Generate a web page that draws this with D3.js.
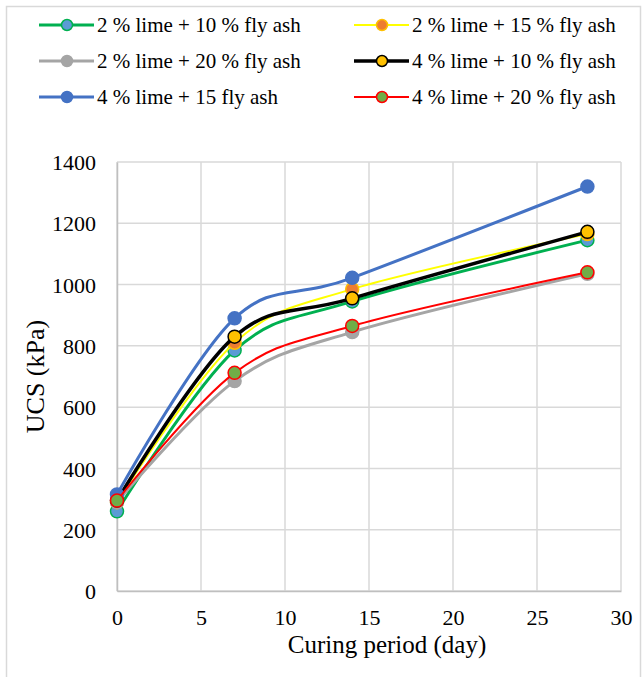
<!DOCTYPE html>
<html>
<head>
<meta charset="utf-8">
<script src="https://cdn.jsdelivr.net/npm/d3@7"></script>
<style>
  body { margin: 0; background: #fff; }
</style>
</head>
<body>
<div id="chart"></div>
<script>
var days = [0, 7, 14, 28];
var seriesNames = [
  "2 % lime + 10 % fly ash",
  "2 % lime + 15 % fly ash",
  "2 % lime + 20 % fly ash",
  "4 % lime + 10 % fly ash",
  "4 % lime + 15 fly ash",
  "4 % lime + 20 % fly ash"
];
var lime2fly10 = [260, 785, 945, 1145];
var lime2fly15 = [290, 810, 985, 1165];
var lime2fly20 = [290, 685, 845, 1035];
var lime4fly10 = [295, 830, 955, 1172];
var lime4fly15 = [315, 890, 1022, 1320];
var lime4fly20 = [295, 712, 865, 1040];
var xTicks = [0, 5, 10, 15, 20, 25, 30];
var yTicks = [0, 200, 400, 600, 800, 1000, 1200, 1400];

var values = [lime2fly10, lime2fly15, lime2fly20, lime4fly10, lime4fly15, lime4fly20];
var styles = [
  { line: "#00B050", w: 3,   fill: "#5B9BD5", stroke: "#00B050" },
  { line: "#FFFF00", w: 2,   fill: "#ED7D31", stroke: "#FFC000" },
  { line: "#A5A5A5", w: 3,   fill: "#A5A5A5", stroke: "#A5A5A5" },
  { line: "#000000", w: 3.5, fill: "#FFC000", stroke: "#000000" },
  { line: "#4472C4", w: 3,   fill: "#4472C4", stroke: "#4472C4" },
  { line: "#FF0000", w: 2,   fill: "#70AD47", stroke: "#FF0000" }
];
var serif = "Liberation Serif";

var width = 643, height = 677;
var svg = d3.select("#chart").append("svg")
  .attr("width", width).attr("height", height);

svg.append("rect")
  .attr("x", 6.5).attr("y", 6.5)
  .attr("width", 634).attr("height", 700)
  .attr("fill", "none").attr("stroke", "#D9D9D9").attr("stroke-width", 1.5);

var x = d3.scaleLinear().domain([0, 30]).range([117, 621]);
var y = d3.scaleLinear().domain([0, 1400]).range([591, 162]);

// grid
svg.append("g").selectAll("line").data(xTicks).join("line")
  .attr("x1", function (d) { return x(d); }).attr("x2", function (d) { return x(d); })
  .attr("y1", y(0)).attr("y2", y(1400))
  .attr("stroke", "#D9D9D9").attr("stroke-width", 1.5);
svg.append("g").selectAll("line").data(yTicks).join("line")
  .attr("x1", x(0)).attr("x2", x(30))
  .attr("y1", function (d) { return y(d); }).attr("y2", function (d) { return y(d); })
  .attr("stroke", "#D9D9D9").attr("stroke-width", 1.5);

// axes
var xAxis = svg.append("g").attr("transform", "translate(0," + y(0) + ")")
  .call(d3.axisBottom(x).tickValues(xTicks).tickSize(0).tickPadding(18));
var yAxis = svg.append("g").attr("transform", "translate(" + x(0) + ",0)")
  .call(d3.axisLeft(y).tickValues(yTicks).tickFormat(d3.format("d")).tickSize(0).tickPadding(21));
[xAxis, yAxis].forEach(function (a) {
  a.attr("font-family", serif).attr("font-size", 22);
  a.select(".domain").attr("stroke", "#BFBFBF").attr("stroke-width", 1.5);
  a.selectAll("text").style("font-family", serif).style("font-size", "22px").attr("fill", "#000");
});
xAxis.selectAll("text").attr("dy", null).attr("y", 34);
yAxis.selectAll("text").attr("dy", "0.35em");

svg.append("text")
  .attr("x", 387).attr("y", 653)
  .attr("text-anchor", "middle")
  .style("font-family", serif).style("font-size", "25px")
  .text("Curing period (day)");
svg.append("text")
  .attr("transform", "translate(44," + y(700) + ") rotate(-90)")
  .attr("text-anchor", "middle")
  .style("font-family", serif).style("font-size", "26px")
  .text("UCS (kPa)");

var line = d3.line()
  .x(function (d, i) { return x(days[i]); })
  .y(function (d) { return y(d); })
  .curve(d3.curveCardinal.tension(0));

values.forEach(function (vals, s) {
  var st = styles[s];
  var g = svg.append("g");
  g.append("path").datum(vals)
    .attr("d", line).attr("fill", "none")
    .attr("stroke", st.line).attr("stroke-width", st.w);
  g.selectAll("circle").data(vals).join("circle")
    .attr("cx", function (d, i) { return x(days[i]); })
    .attr("cy", function (d) { return y(d); })
    .attr("r", 6.5)
    .attr("fill", st.fill).attr("stroke", st.stroke).attr("stroke-width", 1.5);
});

// legend
var legend = svg.append("g");
seriesNames.forEach(function (name, s) {
  var st = styles[s];
  var col = s % 2, row = Math.floor(s / 2);
  var lx = col === 0 ? 39 : 354;
  var ly = 25 + row * 36;
  legend.append("line")
    .attr("x1", lx).attr("x2", lx + 55).attr("y1", ly).attr("y2", ly)
    .attr("stroke", st.line).attr("stroke-width", st.w);
  legend.append("circle")
    .attr("cx", lx + 28).attr("cy", ly).attr("r", 5.5)
    .attr("fill", st.fill).attr("stroke", st.stroke).attr("stroke-width", 1.5);
  legend.append("text")
    .attr("x", lx + 58).attr("y", ly + 7)
    .style("font-family", serif).style("font-size", "21px")
    .text(name);
});
</script>
</body>
</html>
